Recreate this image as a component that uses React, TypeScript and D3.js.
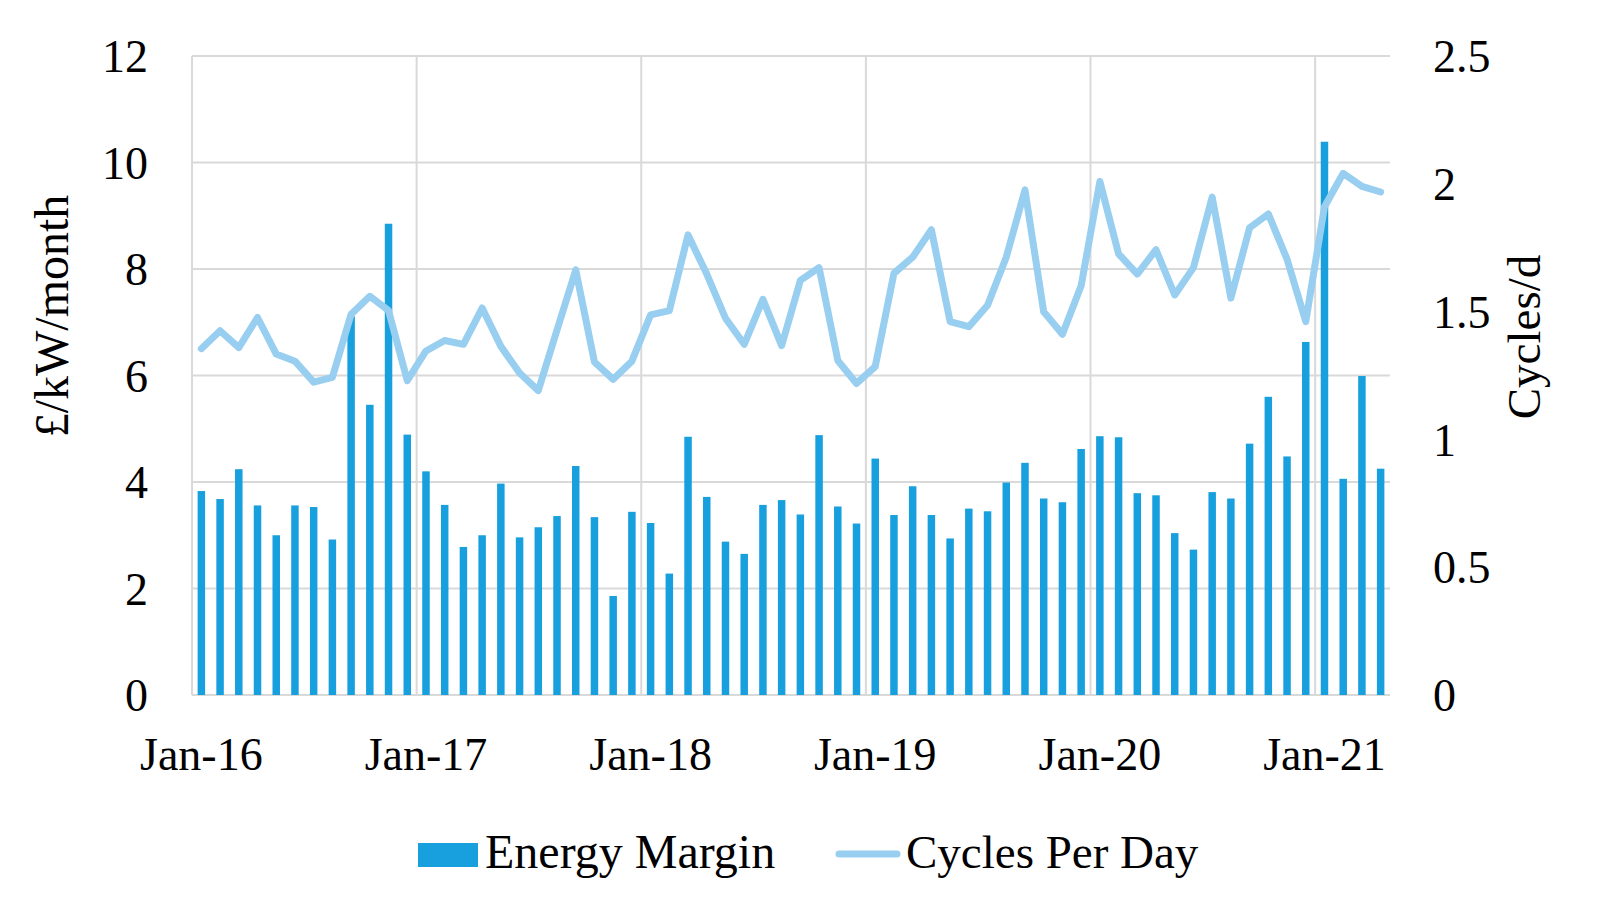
import React from "react";
import * as d3 from "d3";

const energyMargin: number[] = [
  3.83, 3.68, 4.24, 3.56, 3.0, 3.56, 3.53, 2.92, 7.11, 5.45, 8.85, 4.89,
  4.2, 3.57, 2.78, 3.0, 3.97, 2.96, 3.15, 3.36, 4.3, 3.34, 1.86, 3.44,
  3.23, 2.28, 4.85, 3.72, 2.88, 2.65, 3.57, 3.66, 3.39, 4.88, 3.54, 3.22,
  4.44, 3.38, 3.92, 3.38, 2.94, 3.5, 3.45, 3.99, 4.36, 3.69, 3.62, 4.62,
  4.86, 4.84, 3.79, 3.75, 3.04, 2.73, 3.81, 3.69, 4.72, 5.6, 4.48, 6.63,
  10.39, 4.06, 5.99, 4.25,
];
const cyclesPerDay: number[] = [
  1.355, 1.425, 1.359, 1.477, 1.334, 1.306, 1.224, 1.243, 1.49, 1.56, 1.504, 1.23,
  1.346, 1.387, 1.372, 1.514, 1.364, 1.26, 1.191, 1.428, 1.663, 1.303, 1.235, 1.306,
  1.487, 1.504, 1.8, 1.647, 1.474, 1.372, 1.548, 1.367, 1.622, 1.672, 1.309, 1.219,
  1.285, 1.65, 1.713, 1.82, 1.461, 1.441, 1.525, 1.713, 1.976, 1.499, 1.411, 1.601,
  2.009, 1.726, 1.647, 1.742, 1.565, 1.672, 1.948, 1.553, 1.828, 1.882, 1.705, 1.461,
  1.91, 2.041, 1.99, 1.968,
];
const leftTicks = [0, 2, 4, 6, 8, 10, 12];
const rightTicks = [0, 0.5, 1, 1.5, 2, 2.5];
const xLabels = ["Jan-16", "Jan-17", "Jan-18", "Jan-19", "Jan-20", "Jan-21"];
const seriesNames = ["Energy Margin", "Cycles Per Day"];
const axisTitles = ["£/kW/month", "Cycles/d"];

const BAR = "#179FDE";
const LINE = "#98CEF0";
const GRID = "#D9D9D9";
const FONT = "'Liberation Serif', 'DejaVu Serif', serif";

export default function App() {
  const W = 1600, H = 912;
  const L = 192, R = 1390, T = 56, B = 695;
  const idx = energyMargin.map((_, i) => i);
  const x = d3.scaleBand<number>().domain(idx).range([L, R]).padding(0);
  const bw = x.bandwidth();
  const yL = d3.scaleLinear().domain([0, 12]).range([B, T]);
  const yR = d3.scaleLinear().domain([0, 2.5]).range([B, T]);
  const line = d3
    .line<number>()
    .x((_, i) => (x(i) as number) + bw / 2)
    .y((d) => yR(d));
  const yearStarts = xLabels.map((_, k) => k * 12);

  return (
    <svg width={W} height={H} style={{ display: "block", position: "absolute", left: 0, top: 0 }} fontFamily={FONT}>
      <rect width={W} height={H} fill="#fff" />
      {leftTicks.map((t) => (
        <line key={"h" + t} x1={L} x2={R} y1={yL(t)} y2={yL(t)} stroke={GRID} strokeWidth={2} />
      ))}
      {yearStarts.map((s) => (
        <line key={"v" + s} x1={x(s) as number} x2={x(s) as number} y1={T} y2={B} stroke={GRID} strokeWidth={2} />
      ))}
      {energyMargin.map((v, i) => (
        <rect
          key={"b" + i}
          x={(x(i) as number) + bw * 0.3}
          width={bw * 0.4}
          y={yL(v)}
          height={B - yL(v)}
          fill={BAR}
        />
      ))}
      <path d={line(cyclesPerDay) || ""} fill="none" stroke={LINE} strokeWidth={7} strokeLinejoin="round" strokeLinecap="round" />
      {leftTicks.map((t) => (
        <text key={"lt" + t} x={148} y={yL(t)} dy="0.35em" textAnchor="end" fontSize={46} fill="#000">
          {t}
        </text>
      ))}
      {rightTicks.map((t) => (
        <text key={"rt" + t} x={1433} y={yR(t)} dy="0.35em" textAnchor="start" fontSize={46} fill="#000">
          {t}
        </text>
      ))}
      {xLabels.map((lab, k) => (
        <text key={lab} x={(x(k * 12) as number) + bw / 2} y={770} textAnchor="middle" fontSize={46} fill="#000">
          {lab}
        </text>
      ))}
      <text transform="translate(68,316) rotate(-90)" textAnchor="middle" fontSize={48} fill="#000">
        {axisTitles[0]}
      </text>
      <text transform="translate(1540,337) rotate(-90)" textAnchor="middle" fontSize={47} fill="#000">
        {axisTitles[1]}
      </text>
      <rect x={418} y={843} width={60} height={24} fill={BAR} />
      <text x={485} y={868} fontSize={48} fill="#000">{seriesNames[0]}</text>
      <line x1={839} x2={897} y1={854} y2={854} stroke={LINE} strokeWidth={7} strokeLinecap="round" />
      <text x={906} y={868} fontSize={47} fill="#000">{seriesNames[1]}</text>
    </svg>
  );
}
